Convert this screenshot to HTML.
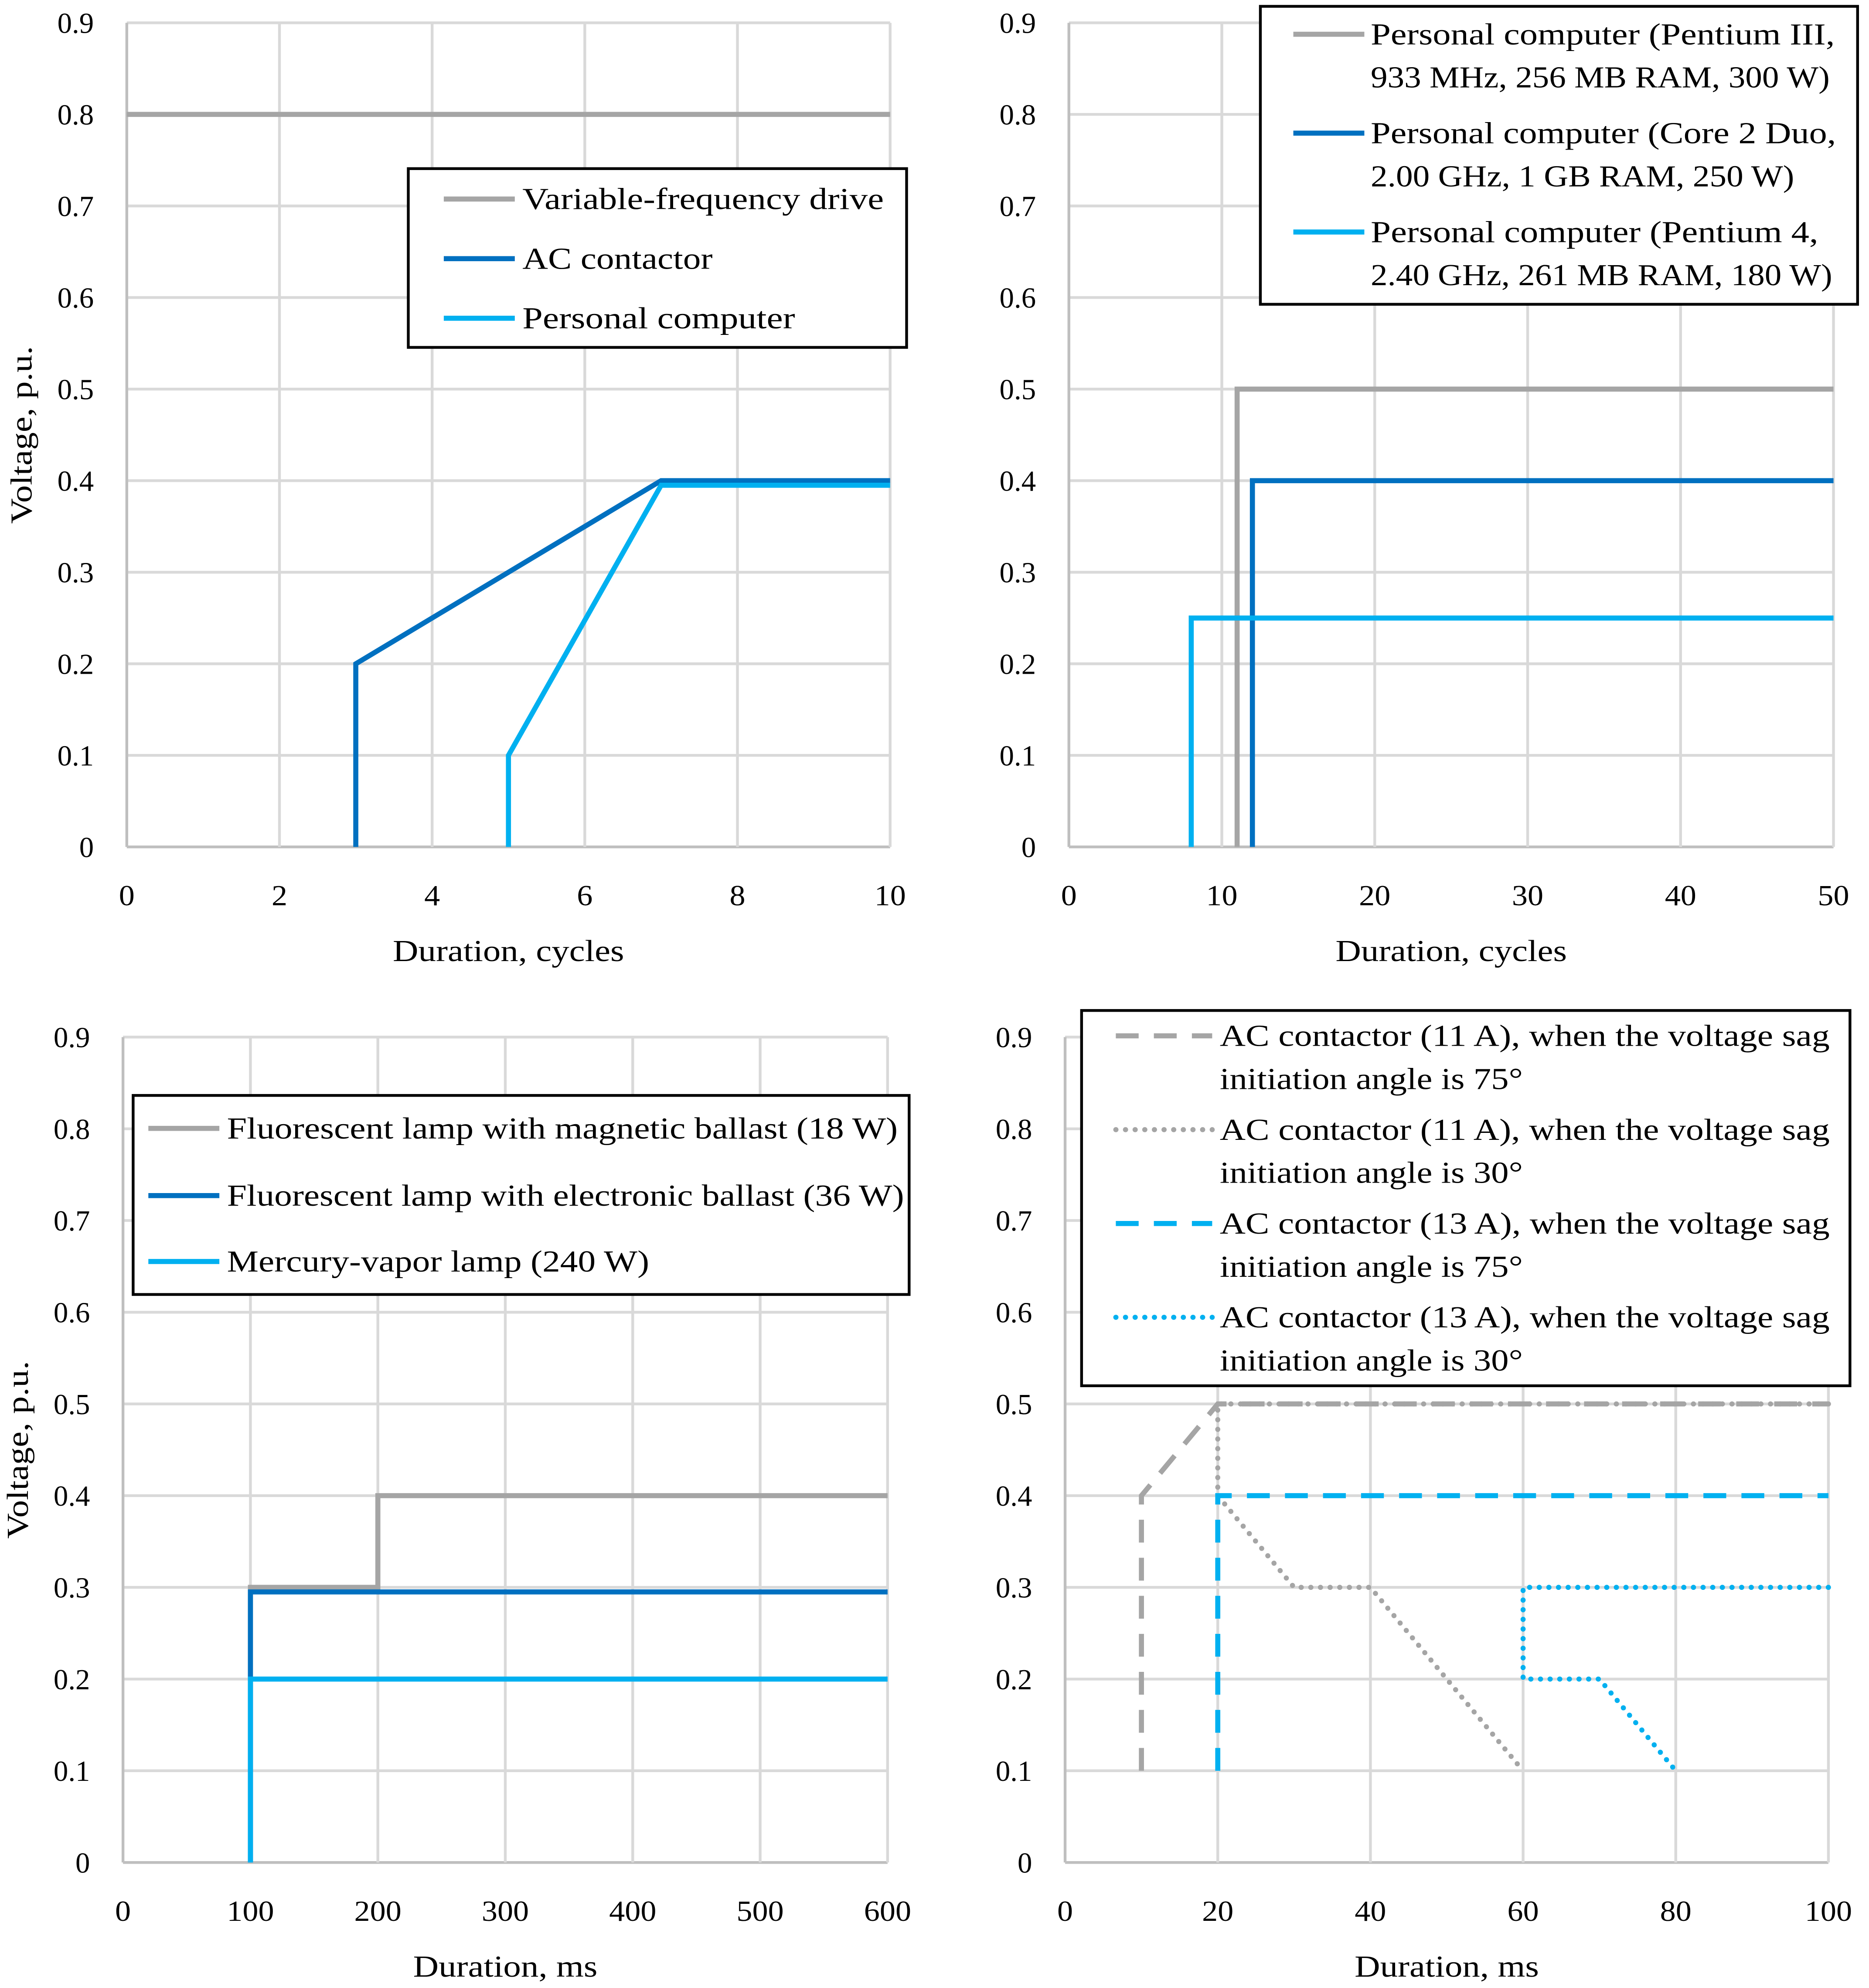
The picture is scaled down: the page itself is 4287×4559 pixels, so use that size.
<!DOCTYPE html>
<html><head><meta charset="utf-8"><style>
html,body{margin:0;padding:0;background:#fff}
svg{display:block}
text{font-family:"Liberation Serif",serif;fill:#000}
</style></head><body>
<svg id="s" xmlns="http://www.w3.org/2000/svg" width="4287" height="4559" viewBox="0 0 1474 1568" preserveAspectRatio="none"></svg>
<script>
// ---- Data ----
const yTicks=[0,0.1,0.2,0.3,0.4,0.5,0.6,0.7,0.8,0.9];
const xTicksA=[0,2,4,6,8,10];
const xTicksB=[0,10,20,30,40,50];
const xTicksC=[0,100,200,300,400,500,600];
const xTicksD=[0,20,40,60,80,100];
const vfdX=[0,10], vfdY=[0.8,0.8];
const acX=[3,3,7,10], acY=[0,0.2,0.4,0.4];
const pcX=[5,5,7,10], pcY=[0,0.1,0.395,0.395];
const p3X=[11,11,50], p3Y=[0,0.5,0.5];
const c2X=[12,12,50], c2Y=[0,0.4,0.4];
const p4X=[8,8,50], p4Y=[0,0.25,0.25];
const magX=[100,100,200,200,600], magY=[0,0.3,0.3,0.4,0.4];
const eleX=[100,100,600], eleY=[0,0.295,0.295];
const merX=[100,100,600], merY=[0,0.2,0.2];
const a11_75X=[10,10,20,100], a11_75Y=[0.1,0.4,0.5,0.5];
const a11_30X=[100,20,20,30,40,60], a11_30Y=[0.5,0.5,0.4,0.3,0.3,0.1];
const a13_75X=[20,20,100], a13_75Y=[0.1,0.4,0.4];
const a13_30X=[100,60,60,70,80], a13_30Y=[0.3,0.3,0.2,0.2,0.1];

const GRAY='#a5a5a5',DARK='#0070c0',LIGHT='#00b0f0';
const DOT='0.1 7.5';
const svg=document.getElementById('s');
const NS='http://www.w3.org/2000/svg';
function mk(tag,attrs,parent){const e=document.createElementNS(NS,tag);for(const k in attrs)e.setAttribute(k,attrs[k]);(parent||svg).appendChild(e);return e;}
function widen(t,f){const w=t.getComputedTextLength();if(w>0){t.setAttribute('textLength',w*f);t.setAttribute('lengthAdjust','spacingAndGlyphs');}}
function fit(t,len){t.setAttribute('textLength',len);t.setAttribute('lengthAdjust','spacingAndGlyphs');}

function chart(name,x0,x1,y0,y9,ticks,xtitle,ytitle,series,legend){
  const g=mk('g',{});
  
  
  const xmax=ticks[ticks.length-1];
  const sx=v=>x0+(x1-x0)*v/xmax;
  const sy=v=>y0-(y0-y9)*v/0.9;
  yTicks.forEach(t=>{
    const l=mk('line',{x1:x0,x2:x1,y1:sy(t),y2:sy(t),stroke:t===0?'#bfbfbf':'#d9d9d9','stroke-width':2.2},g);
    
    
    const tx=mk('text',{x:x0-26,y:sy(t)+8,'font-size':23,'text-anchor':'end'},g);
    tx.textContent=String(t);
    
    
  });
  ticks.forEach(t=>{
    const l=mk('line',{x1:sx(t),x2:sx(t),y1:y9,y2:y0,stroke:t===0?'#bfbfbf':'#d9d9d9','stroke-width':2.2},g);
    
    
    const tx=mk('text',{x:sx(t),y:y0+46,'font-size':23,'text-anchor':'middle'},g);
    tx.textContent=String(t);
    
    
    widen(tx,1.08);
  });
  const xt=mk('text',{x:(x0+x1)/2,y:y0+90,'font-size':24,'text-anchor':'middle'},g);
  xt.textContent=xtitle;
  
  
  widen(xt,1.16);
  if(ytitle){
    const cy=(y0+y9)/2;
    const yt=mk('text',{x:x0-75,y:cy,'font-size':24,'text-anchor':'middle',transform:`rotate(-90 ${x0-75} ${cy})`},g);
    yt.textContent=ytitle;
    
    
    widen(yt,1.16);
  }
  series.forEach(s=>{
    const pts=s.x.map((v,i)=>sx(v)+','+sy(s.y[i])).join(' ');
    const p=mk('polyline',{points:pts,fill:'none',stroke:s.c,'stroke-width':s.w||4,'stroke-linejoin':'miter','stroke-dasharray':s.d||'','stroke-linecap':s.cap||'butt'},g);
    
    
  });
  const lg=mk('g',{},g);
  
  
  const b=legend.box;
  mk('rect',{x:b[0],y:b[1],width:b[2]-b[0],height:b[3]-b[1],fill:'#fff',stroke:'#000','stroke-width':2.2},lg);
  legend.items.forEach(it=>{
    const l=mk('line',{x1:legend.lx[0],x2:legend.lx[1],y1:it.y-8,y2:it.y-8,stroke:it.c,'stroke-width':it.w||4,'stroke-dasharray':it.d||'','stroke-linecap':it.cap||'butt'},lg);
    
    
    it.t.forEach((line,i)=>{
      const tx=mk('text',{x:legend.tx,y:it.y+i*34,'font-size':24},lg);
      tx.textContent=line;
      
      
      fit(tx,it.e[i]-legend.tx);
    });
  });
}

chart('chart-cycles-10',100,702,668,18,xTicksA,'Duration, cycles','Voltage, p.u.',
 [{x:vfdX,y:vfdY,c:GRAY,n:'line-vfd'},{x:acX,y:acY,c:DARK,n:'line-ac-contactor'},{x:pcX,y:pcY,c:LIGHT,n:'line-personal-computer'}],
 {box:[322,133,715,274],lx:[350,406],tx:412,items:[
  {y:165,c:GRAY,t:['Variable-frequency drive'],e:[697]},
  {y:212,c:DARK,t:['AC contactor'],e:[562]},
  {y:259,c:LIGHT,t:['Personal computer'],e:[627]}]});

chart('chart-cycles-50',843,1446,668,18,xTicksB,'Duration, cycles',null,
 [{x:p3X,y:p3Y,c:GRAY,n:'line-pc-pentium3'},{x:c2X,y:c2Y,c:DARK,n:'line-pc-core2'},{x:p4X,y:p4Y,c:LIGHT,n:'line-pc-pentium4'}],
 {box:[994,5,1465,240],lx:[1020,1076],tx:1081,items:[
  {y:35,c:GRAY,t:['Personal computer (Pentium III,','933 MHz, 256 MB RAM, 300 W)'],e:[1447,1443]},
  {y:113,c:DARK,t:['Personal computer (Core 2 Duo,','2.00 GHz, 1 GB RAM, 250 W)'],e:[1448,1415]},
  {y:191,c:LIGHT,t:['Personal computer (Pentium 4,','2.40 GHz, 261 MB RAM, 180 W)'],e:[1434,1445]}]});

chart('chart-lamps-ms',97,700,1469,818,xTicksC,'Duration, ms','Voltage, p.u.',
 [{x:magX,y:magY,c:GRAY,n:'line-magnetic-ballast'},{x:eleX,y:eleY,c:DARK,n:'line-electronic-ballast'},{x:merX,y:merY,c:LIGHT,n:'line-mercury-vapor'}],
 {box:[105,864,717,1021],lx:[117,173],tx:179,items:[
  {y:898,c:GRAY,t:['Fluorescent lamp with magnetic ballast (18 W)'],e:[708]},
  {y:951,c:DARK,t:['Fluorescent lamp with electronic ballast (36 W)'],e:[713]},
  {y:1003,c:LIGHT,t:['Mercury-vapor lamp (240 W)'],e:[512]}]});

chart('chart-contactor-ms',840,1442,1469,818,xTicksD,'Duration, ms',null,
 [{x:a11_75X,y:a11_75Y,c:GRAY,n:'line-ac11-75deg',d:'18 12'},
  {x:a11_30X,y:a11_30Y,c:GRAY,n:'line-ac11-30deg',w:4,d:DOT,cap:'round'},
  {x:a13_75X,y:a13_75Y,c:LIGHT,n:'line-ac13-75deg',d:'18 12'},
  {x:a13_30X,y:a13_30Y,c:LIGHT,n:'line-ac13-30deg',w:4,d:DOT,cap:'round'}],
 {box:[853,797,1459,1093],lx:[880,956],tx:962,items:[
  {y:825,c:GRAY,d:'18 12',t:['AC contactor (11 A), when the voltage sag','initiation angle is 75°'],e:[1443,1201]},
  {y:899,c:GRAY,w:4,d:DOT,cap:'round',t:['AC contactor (11 A), when the voltage sag','initiation angle is 30°'],e:[1443,1201]},
  {y:973,c:LIGHT,d:'18 12',t:['AC contactor (13 A), when the voltage sag','initiation angle is 75°'],e:[1443,1201]},
  {y:1047,c:LIGHT,w:4,d:DOT,cap:'round',t:['AC contactor (13 A), when the voltage sag','initiation angle is 30°'],e:[1443,1201]}]});
</script>
</body></html>
